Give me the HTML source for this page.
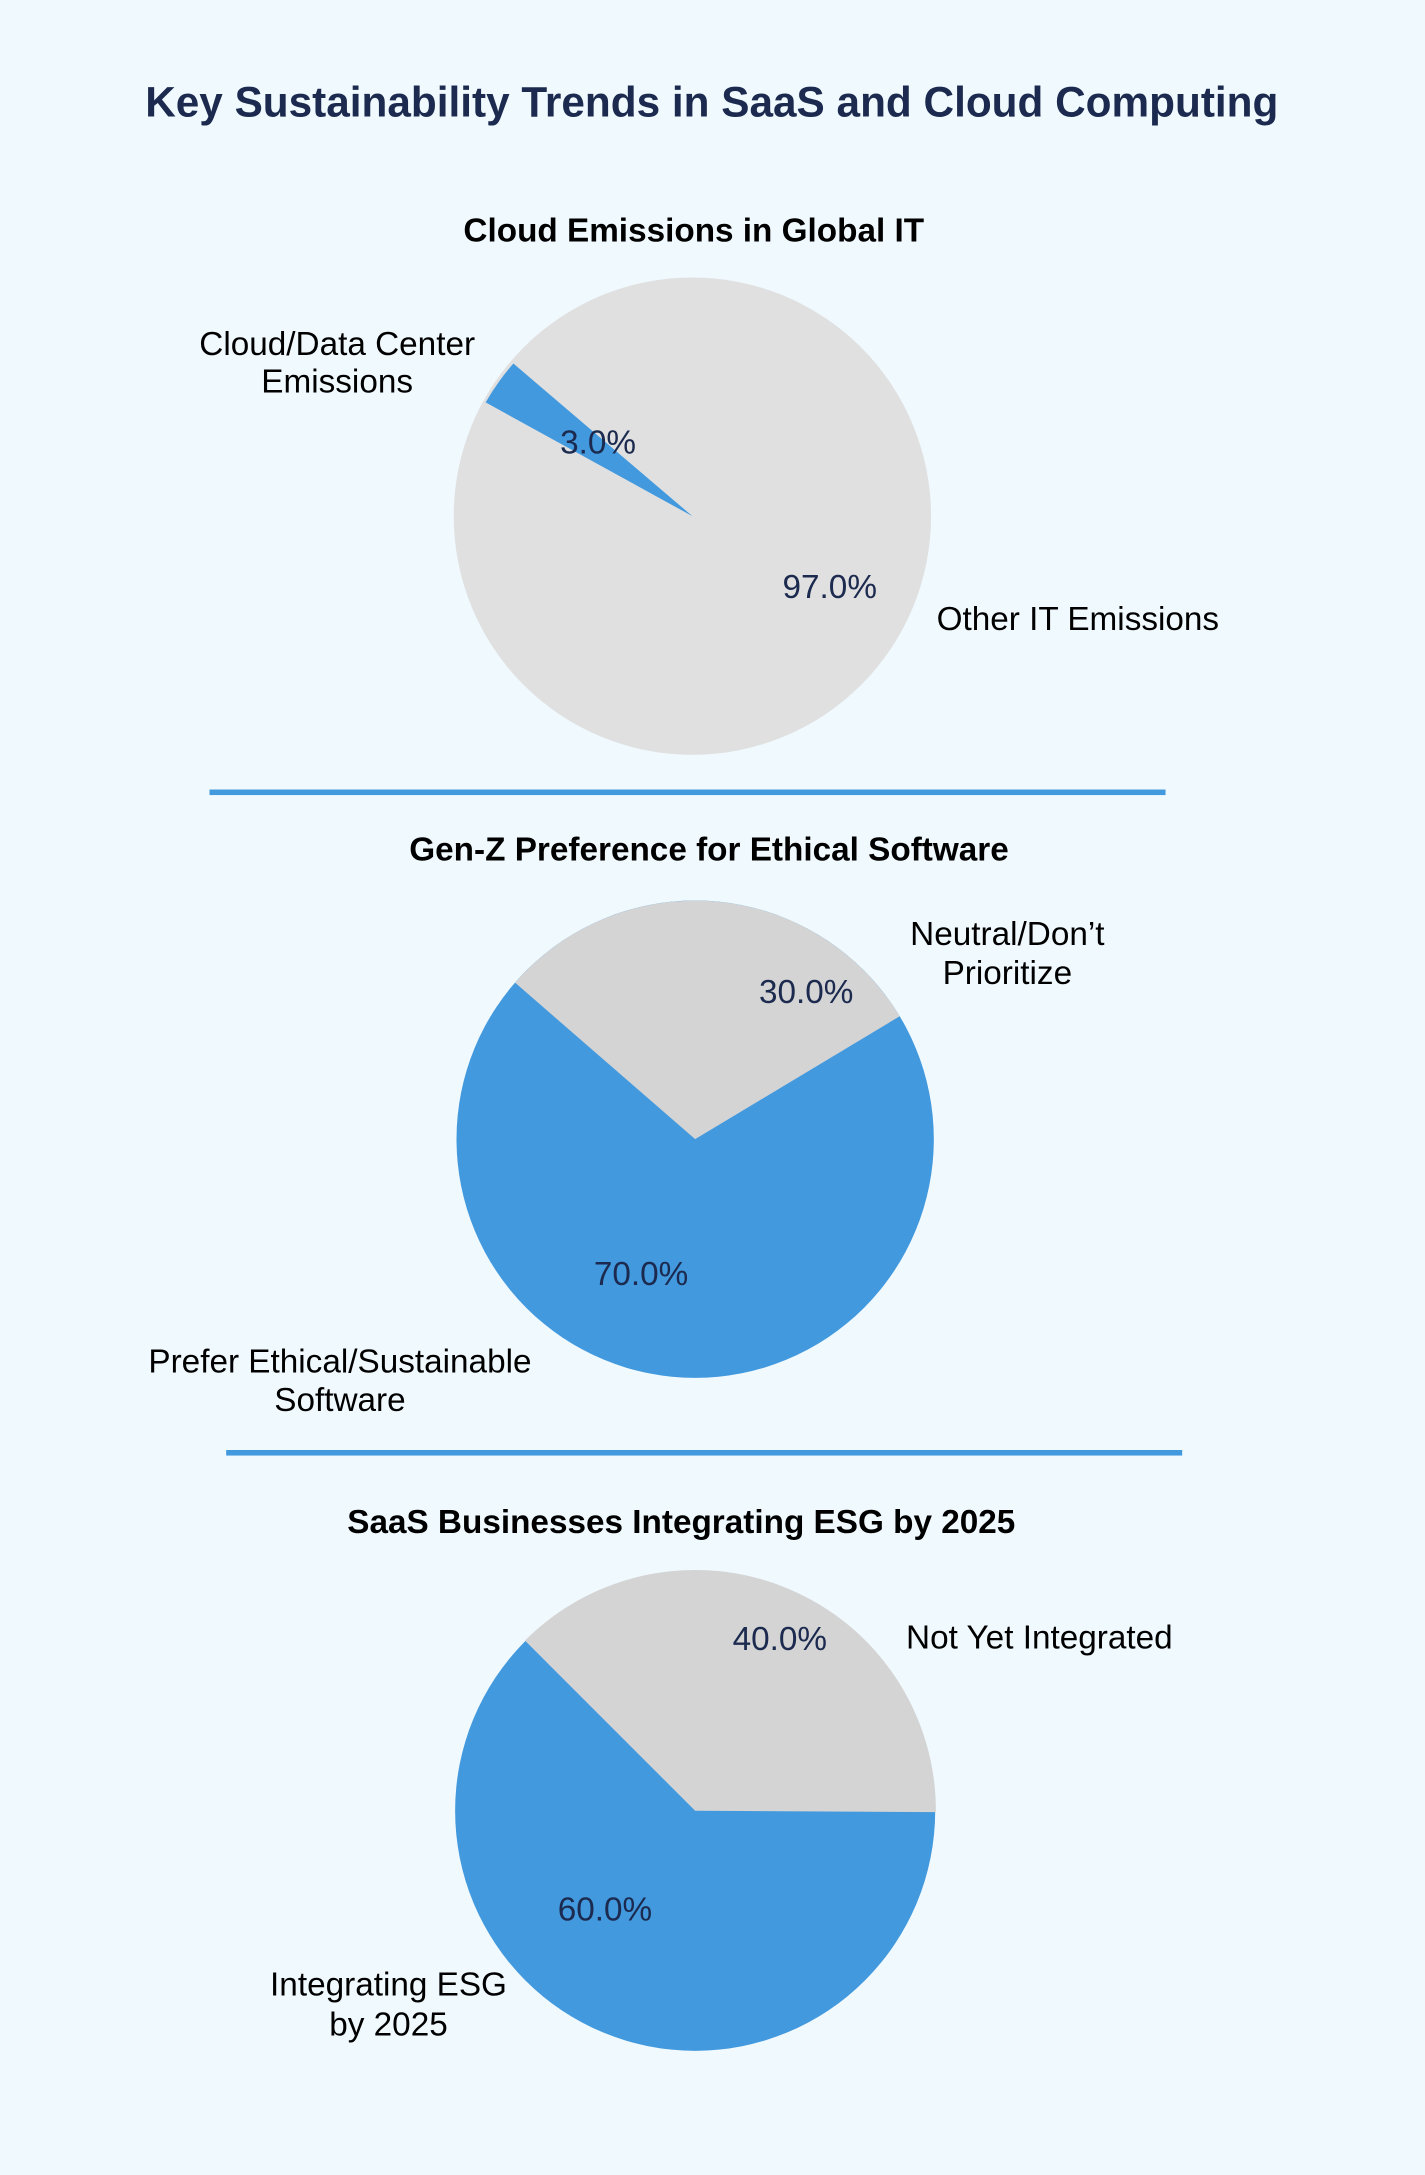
<!DOCTYPE html>
<html><head><meta charset="utf-8"><style>
html,body{margin:0;padding:0;background:#f0f9fe;}
svg{display:block;}
text{font-family:"Liberation Sans","DejaVu Sans",sans-serif;}
</style></head><body>
<svg width="1425" height="2175" viewBox="0 0 1027 1567.5" preserveAspectRatio="none">
<rect width="1027" height="1568" fill="#f0f9fe"/>
<text x="513" y="84" text-anchor="middle" font-size="30.5" font-weight="bold" fill="#1b2a4e">Key Sustainability Trends in SaaS and Cloud Computing</text>

<text x="500" y="174" text-anchor="middle" font-size="24" font-weight="bold" fill="#000">Cloud Emissions in Global IT</text>
<circle cx="499" cy="372" r="172" fill="#e0e0e0"/>
<path d="M499,372 L370,262 A172 172 0 0 0 350,290 Z" fill="#4299de"/>
<text x="431" y="327" text-anchor="middle" font-size="24" fill="#1b2a4e">3.0%</text>
<text x="598" y="431" text-anchor="middle" font-size="24" fill="#1b2a4e">97.0%</text>
<text x="243" y="256" text-anchor="middle" font-size="24" fill="#000">Cloud/Data Center</text>
<text x="243" y="283" text-anchor="middle" font-size="24" fill="#000">Emissions</text>
<text x="675" y="454" font-size="24" fill="#000">Other IT Emissions</text>
<rect x="151" y="569" width="689" height="4" fill="#4299de"/>

<text x="511" y="620" text-anchor="middle" font-size="24" font-weight="bold" fill="#000">Gen-Z Preference for Ethical Software</text>
<circle cx="501" cy="821" r="172" fill="#4299de"/>
<path d="M501,821 L648.4,732.4 A172 172 0 0 0 371.2,708.2 Z" fill="#d4d4d4"/>
<text x="581" y="723" text-anchor="middle" font-size="24" fill="#1b2a4e">30.0%</text>
<text x="462" y="926" text-anchor="middle" font-size="24" fill="#1b2a4e">70.0%</text>
<text x="726" y="681" text-anchor="middle" font-size="24" fill="#000">Neutral/Don’t</text>
<text x="726" y="709" text-anchor="middle" font-size="24" fill="#000">Prioritize</text>
<text x="245" y="989" text-anchor="middle" font-size="24" fill="#000">Prefer Ethical/Sustainable</text>
<text x="245" y="1017" text-anchor="middle" font-size="24" fill="#000">Software</text>
<rect x="163" y="1045" width="689" height="4" fill="#4299de"/>

<text x="491" y="1105" text-anchor="middle" font-size="24" font-weight="bold" fill="#000">SaaS Businesses Integrating ESG by 2025</text>
<circle cx="501" cy="1305" r="173" fill="#4299de"/>
<path d="M501,1305 L674.5,1306 A173.5 173.5 0 0 0 378.3,1182.3 Z" fill="#d4d4d4"/>
<text x="562" y="1189" text-anchor="middle" font-size="24" fill="#1b2a4e">40.0%</text>
<text x="436" y="1384" text-anchor="middle" font-size="24" fill="#1b2a4e">60.0%</text>
<text x="653" y="1188" font-size="24" fill="#000">Not Yet Integrated</text>
<text x="280" y="1438" text-anchor="middle" font-size="24" fill="#000">Integrating ESG</text>
<text x="280" y="1467" text-anchor="middle" font-size="24" fill="#000">by 2025</text>
</svg>
</body></html>
